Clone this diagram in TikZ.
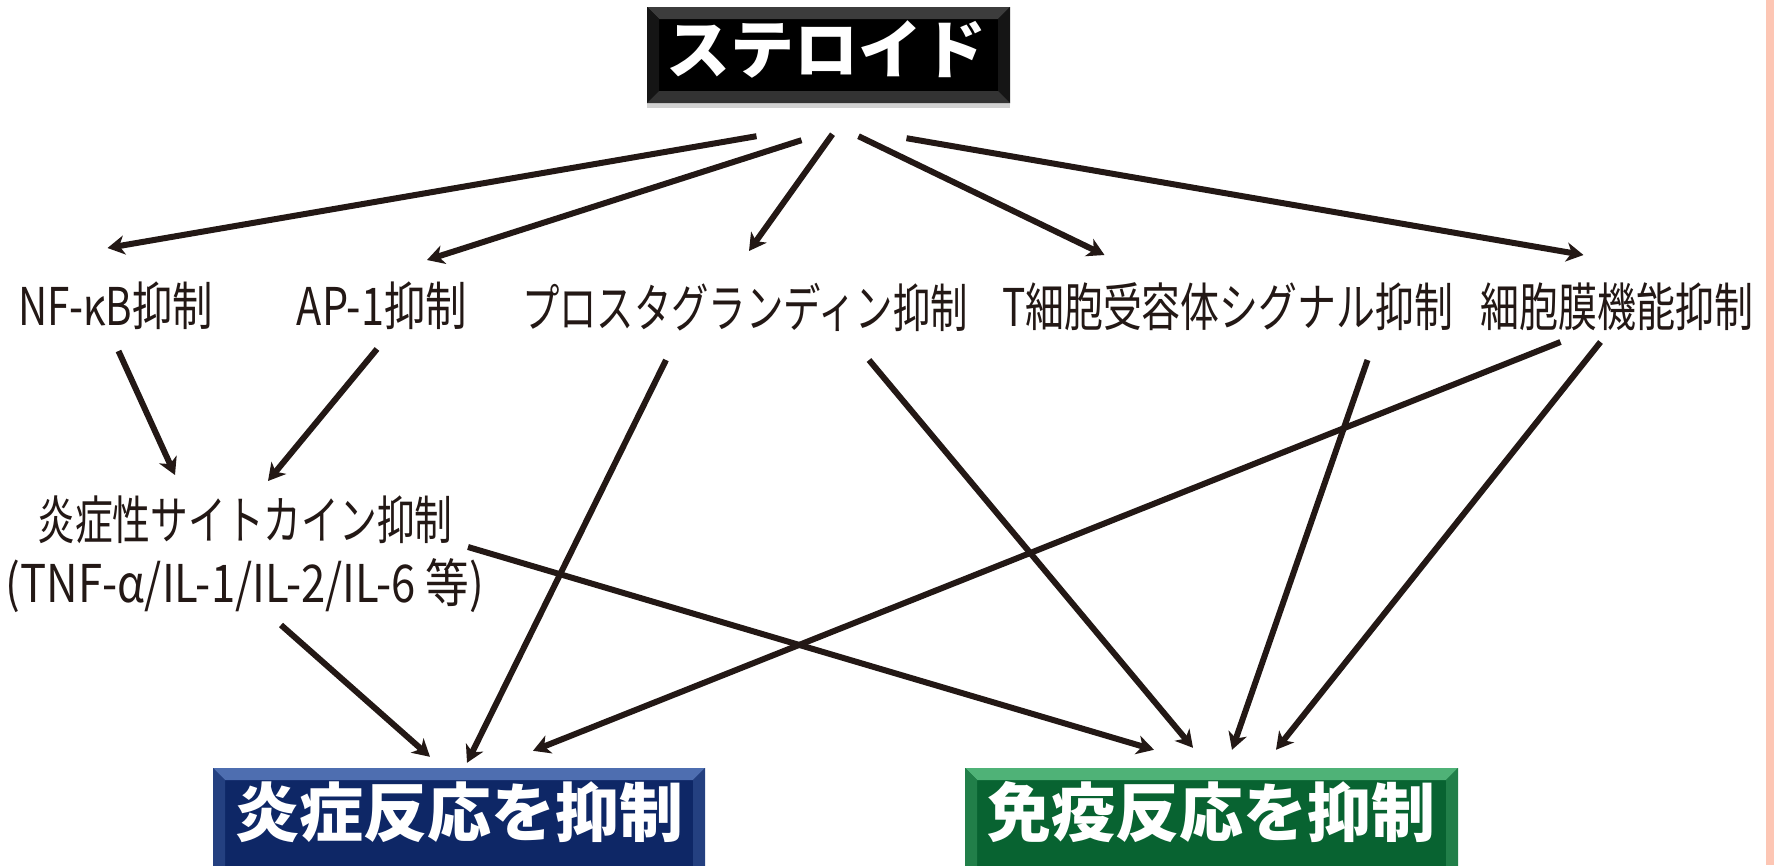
\documentclass[tikz,border=0pt]{standalone}
\usepackage{fontspec}
\usepackage{graphicx}
\usetikzlibrary{arrows.meta,shadows}
\newfontfamily\lblfont{Noto Sans CJK JP}
\newfontfamily\hdrfont{Noto Sans CJK JP}
\newcommand{\fitw}[2]{\resizebox{#1}{\height}{#2}}
\definecolor{ink}{HTML}{231815}
\definecolor{bluemain}{HTML}{0E2766}
\definecolor{bluelight}{HTML}{4E6EB0}
\definecolor{greenmain}{HTML}{086331}
\definecolor{greenlight}{HTML}{4FB277}
\definecolor{blackmain}{HTML}{000000}
\definecolor{blacklight}{HTML}{3C3C3C}
\definecolor{strip}{HTML}{FDC6B4}
\begin{document}
\begin{tikzpicture}[x=1pt,y=-1pt,
  lbl/.style={text=ink, font=\lblfont\fontsize{52}{63}\selectfont, inner sep=0pt, align=center},
  hdr/.style={text=white, font=\hdrfont\bfseries\fontsize{64}{70}\selectfont, inner sep=0pt},
  arr/.style={draw=ink, line width=6pt, -{Stealth[length=17pt,width=19pt,inset=5pt]}},
  bevel/.style n args={3}{fill=#1, draw=none, inner sep=0pt, path picture={
    \fill[#2] (path picture bounding box.north west) -- (path picture bounding box.north east)
      -- ([shift={(-12,12)}]path picture bounding box.north east) -- ([shift={(12,12)}]path picture bounding box.north west) -- cycle;
    \fill[#2!35!#1] (path picture bounding box.north west) -- ([shift={(12,12)}]path picture bounding box.north west)
      -- ([shift={(12,-12)}]path picture bounding box.south west) -- (path picture bounding box.south west) -- cycle;
    \fill[#2!35!#1] (path picture bounding box.north east) -- ([shift={(-12,12)}]path picture bounding box.north east)
      -- ([shift={(-12,-12)}]path picture bounding box.south east) -- (path picture bounding box.south east) -- cycle;
    \fill[#3] (path picture bounding box.south west) -- (path picture bounding box.south east)
      -- ([shift={(-12,-12)}]path picture bounding box.south east) -- ([shift={(12,-12)}]path picture bounding box.south west) -- cycle;
  }}
]
\useasboundingbox (0,0) rectangle (1775,865);
\fill[white] (0,0) rectangle (1775,865);
\fill[strip] (1766,0) rectangle (1774,865);

% heading boxes
\node[bevel={blackmain}{blacklight}{black!80!white}, minimum width=363pt, minimum height=96pt,
  drop shadow={shadow xshift=0pt, shadow yshift=-5pt, opacity=0.35}] (steroidbox) at (828.5,55) {};
\node[hdr] (steroid) at (826,49) {ステロイド};

\node[bevel={bluemain}{bluelight}{bluemain!80!black}, minimum width=492pt, minimum height=112pt] (bluebox) at (459,824) {};
\node[hdr] (inflam) at (459,812) {炎症反応を抑制};

\node[bevel={greenmain}{greenlight}{greenmain!80!black}, minimum width=493pt, minimum height=112pt] (greenbox) at (1211.5,824) {};
\node[hdr] (immune) at (1211.5,812) {免疫反応を抑制};

% labels
\node[lbl] (nfkb) at (115.5,306) {\fitw{195pt}{NF-κB抑制}};
\node[lbl] (ap1) at (382,306) {\fitw{170pt}{AP-1抑制}};
\node[lbl] (prosta) at (745,307) {\fitw{446pt}{プロスタグランディン抑制}};
\node[lbl] (tcell) at (1227.5,307) {\fitw{451pt}{T細胞受容体シグナル抑制}};
\node[lbl] (memb) at (1616.5,307) {\fitw{273pt}{細胞膜機能抑制}};
\node[lbl] (cyto) at (245,554) {\fitw{415pt}{炎症性サイトカイン抑制}\\\fitw{478pt}{(TNF-α/IL-1/IL-2/IL-6 等)}};

% arrows from steroid
\draw[arr] ([shift={(-72,33)}]steroidbox.south) -- ([shift={(-8,-58)}]nfkb.center);
\draw[arr] ([shift={(-27,37)}]steroidbox.south) -- ([shift={(45,-46)}]ap1.center);
\draw[arr] ([shift={(4,31)}]steroidbox.south) -- ([shift={(4,-56)}]prosta.center);
\draw[arr] ([shift={(30,33)}]steroidbox.south) -- ([shift={(-123,-52)}]tcell.center);
\draw[arr] ([shift={(78,35)}]steroidbox.south) -- ([shift={(-33,-52)}]memb.center);

% second level
\draw[arr] ([shift={(3,45)}]nfkb.center) -- ([shift={(-70,-79)}]cyto.center);
\draw[arr] ([shift={(-5,43)}]ap1.center) -- ([shift={(23,-73)}]cyto.center);
\draw[arr] ([shift={(-79,53)}]prosta.center) -- ([shift={(8,-5)}]bluebox.north);
\draw[arr] ([shift={(124,53)}]prosta.center) -- ([shift={(-18.5,-20)}]greenbox.north);
\draw[arr] ([shift={(140,53)}]tcell.center) -- ([shift={(20.5,-18)}]greenbox.north);
\draw[arr] ([shift={(-56,35)}]memb.center) -- ([shift={(74,-17)}]bluebox.north);
\draw[arr] ([shift={(-16,35)}]memb.center) -- ([shift={(64.5,-18)}]greenbox.north);
\draw[arr] ([shift={(223,-7)}]cyto.center) -- ([shift={(-57.5,-18)}]greenbox.north);
\draw[arr] ([shift={(36,71)}]cyto.center) -- ([shift={(-29,-11)}]bluebox.north);
\end{tikzpicture}
\end{document}
